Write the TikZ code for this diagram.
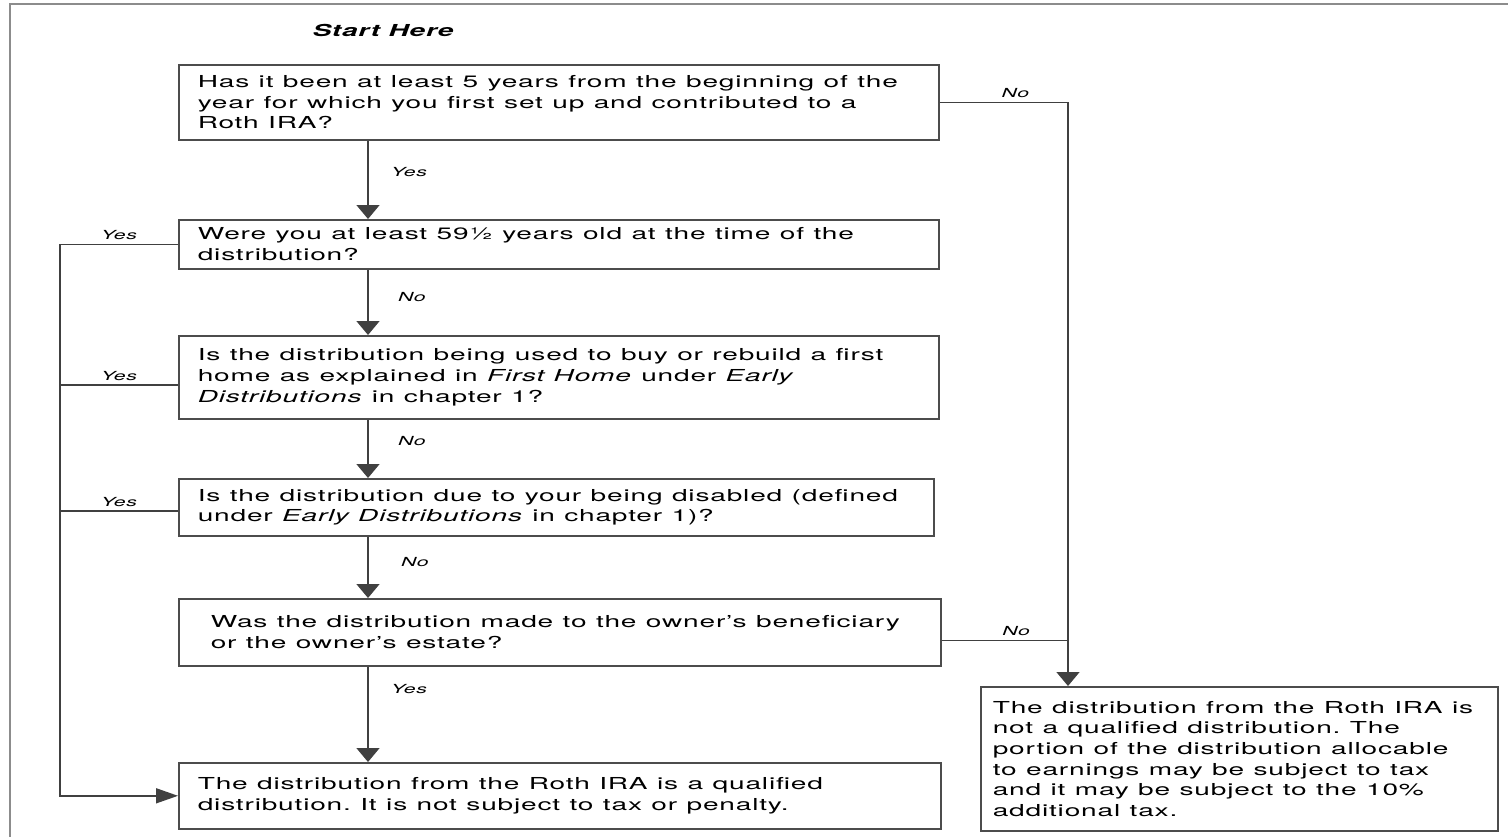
\documentclass[tikz,border=0pt]{standalone}
\usepackage{fontspec}
\setmainfont{TeX Gyre Heros}[FakeStretch=1.7,LetterSpace=5]
\usetikzlibrary{arrows.meta}
\DeclareRobustCommand\boxfont{\fontsize{16.5}{20.6}\selectfont\frenchspacing\spaceskip=9.4pt\relax}

\begin{document}
\begin{tikzpicture}[x=1pt,y=-1pt,
  box/.style={draw=black!70,line width=1.6pt,anchor=north west,align=flush left,
    inner xsep=19pt,inner ysep=0pt,font=\boxfont},
  lbl/.style={font=\itshape\fontsize{12.5}{14}\selectfont},
  link/.style={draw=black!75,line width=1.6pt},
  down/.style={link,-{Triangle[width=23pt,length=14pt]}},
  across/.style={link,-{Triangle[width=15pt,length=22pt]}}]
  \useasboundingbox (0,0) rectangle (1508,836);
  \draw[black!45,line width=2.5pt] (10,840) -- (10,4) -- (1510,4);

  % Questions
  \node[font=\bfseries\itshape\fontsize{16.5}{20}\selectfont] (start) at (383,30) {Start Here};
  \node[box,text width=722pt,minimum height=75pt] (q1) at (178,64)
    {Has it been at least 5 years from the beginning of the\\year for which you first set up and contributed to a\\Roth IRA?};
  \node[box,text width=722pt,minimum height=49pt] (q2) at (178,219)
    {Were you at least 59½ years old at the time of the\\distribution?};
  \node[box,text width=722pt,minimum height=83pt] (q3) at (178,335)
    {Is the distribution being used to buy or rebuild a first\\home as explained in \textit{First Home} under \textit{Early}\\\textit{Distributions} in chapter 1?};
  \node[box,text width=717pt,minimum height=57pt] (q4) at (178,478)
    {Is the distribution due to your being disabled (defined\\under \textit{Early Distributions} in chapter 1)?};
  \node[box,inner xsep=32pt,text width=698pt,minimum height=67pt] (q5) at (178,598)
    {Was the distribution made to the owner’s beneficiary\\or the owner’s estate?};

  % Results
  \node[box,text width=724pt,minimum height=66pt] (res1) at (178,762)
    {The distribution from the Roth IRA is a qualified\\distribution. It is not subject to tax or penalty.};
  \node[box,inner xsep=12pt,text width=493pt,minimum height=144pt] (res2) at (980,686)
    {The distribution from the Roth IRA is\\not a qualified distribution. The\\portion of the distribution allocable\\to earnings may be subject to tax\\and it may be subject to the 10\%\\additional tax.};

  \coordinate (trunk) at (368,0);
  \coordinate (lrail) at (60,0);
  \coordinate (rrail) at (1068,0);

  % Main line down
  \draw[down] (q1.south -| trunk) -- node[lbl,right=19pt,pos=0.4] {Yes} (q2.north -| trunk);
  \draw[down] (q2.south -| trunk) -- node[lbl,right=26pt,pos=0.42] {No} (q3.north -| trunk);
  \draw[down] (q3.south -| trunk) -- node[lbl,right=26pt,pos=0.37] {No} (q4.north -| trunk);
  \draw[down] (q4.south -| trunk) -- node[lbl,right=29pt,pos=0.41] {No} (q5.north -| trunk);
  \draw[down] (q5.south -| trunk) -- node[lbl,right=19pt,pos=0.23] {Yes} (res1.north -| trunk);

  % Yes branches on the left
  \draw[across] (q2.west) -- node[lbl,above] {Yes} (q2.west -| lrail) -- (res1.west -| lrail) -- (res1.west);
  \draw[link] ([yshift=-7.5pt]q3.west) -- node[lbl,above] {Yes} ([yshift=-7.5pt]q3.west -| lrail);
  \draw[link] ([yshift=-3.5pt]q4.west) -- node[lbl,above] {Yes} ([yshift=-3.5pt]q4.west -| lrail);

  % No branches on the right
  \draw[down] (q1.east) -- node[lbl,above,pos=0.59] {No} (q1.east -| rrail) -- (res2.north -| rrail);
  \draw[link] ([yshift=-8pt]q5.east) -- node[lbl,above,pos=0.59] {No} ([yshift=-8pt]q5.east -| rrail);
\end{tikzpicture}
\end{document}
